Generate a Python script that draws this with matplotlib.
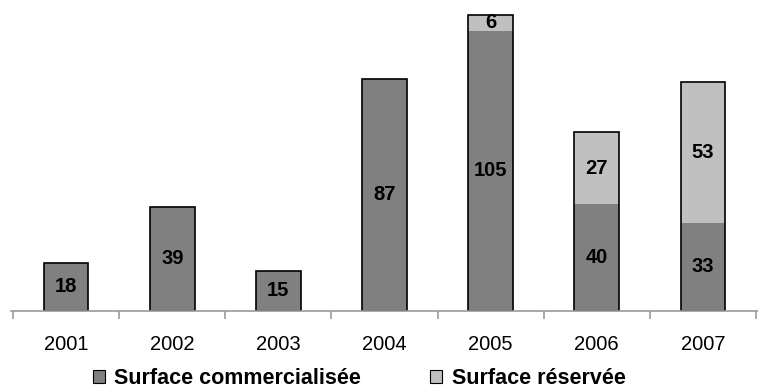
import numpy as np
import matplotlib.pyplot as plt
from matplotlib.patches import Patch

years = ['2001', '2002', '2003', '2004', '2005', '2006', '2007']
commercialisee = [18, 39, 15, 87, 105, 40, 33]
reservee = [0, 0, 0, 0, 6, 27, 53]
series_labels = ['Surface commercialisée', 'Surface réservée']

DARK = '#808080'
LIGHT = '#c0c0c0'

plt.rcParams['font.family'] = ['Liberation Sans', 'DejaVu Sans']

fig = plt.figure(figsize=(7.58, 3.89), dpi=100)
ax = fig.add_axes([11 / 758, 78 / 389, 1 - 11 / 758, 311 / 389])

x = np.arange(len(years))
com = np.array(commercialisee)
res = np.array(reservee)
width = 0.42

ax.bar(x, com, width, color=DARK, edgecolor='none')
ax.bar(x, res, width, bottom=com, color=LIGHT, edgecolor='none')
# outline of the full stack, no line between the two segments
ax.bar(x, com + res, width, fill=False, edgecolor='black', linewidth=1.2)

for i in range(len(years)):
    ax.text(x[i], com[i] / 2, str(com[i]), ha='center', va='center',
            fontsize=14.5, fontweight='bold')
    if res[i] > 0:
        ax.text(x[i], com[i] + res[i] / 2, str(res[i]), ha='center',
                va='center', fontsize=14.5, fontweight='bold')

ax.set_xlim(-0.52, len(years) - 0.48)
ax.set_ylim(0, 116.6)

for side in ['top', 'right', 'left']:
    ax.spines[side].set_visible(False)
ax.spines['bottom'].set_color('#999999')
ax.spines['bottom'].set_linewidth(1.2)
ax.set_yticks([])

ax.set_xticks(np.arange(-0.5, len(years), 1.0))
ax.set_xticklabels([])
ax.set_xticks(x, minor=True)
ax.set_xticklabels(years, minor=True, fontsize=14.5)
ax.tick_params(axis='x', which='major', length=6, color='#999999', width=1.2)
ax.tick_params(axis='x', which='minor', length=0, pad=17)

handles = [Patch(facecolor=DARK, edgecolor='black', linewidth=0.8),
           Patch(facecolor=LIGHT, edgecolor='black', linewidth=0.8)]
fig.legend(handles, series_labels, loc='center', ncol=2,
           bbox_to_anchor=(0.474, 10 / 389), frameon=False,
           prop={'weight': 'bold', 'size': 15.5},
           handlelength=0.55, handleheight=0.55, handletextpad=0.45,
           columnspacing=3.2, borderpad=0, borderaxespad=0)

fig.savefig('out.png', dpi=100)
